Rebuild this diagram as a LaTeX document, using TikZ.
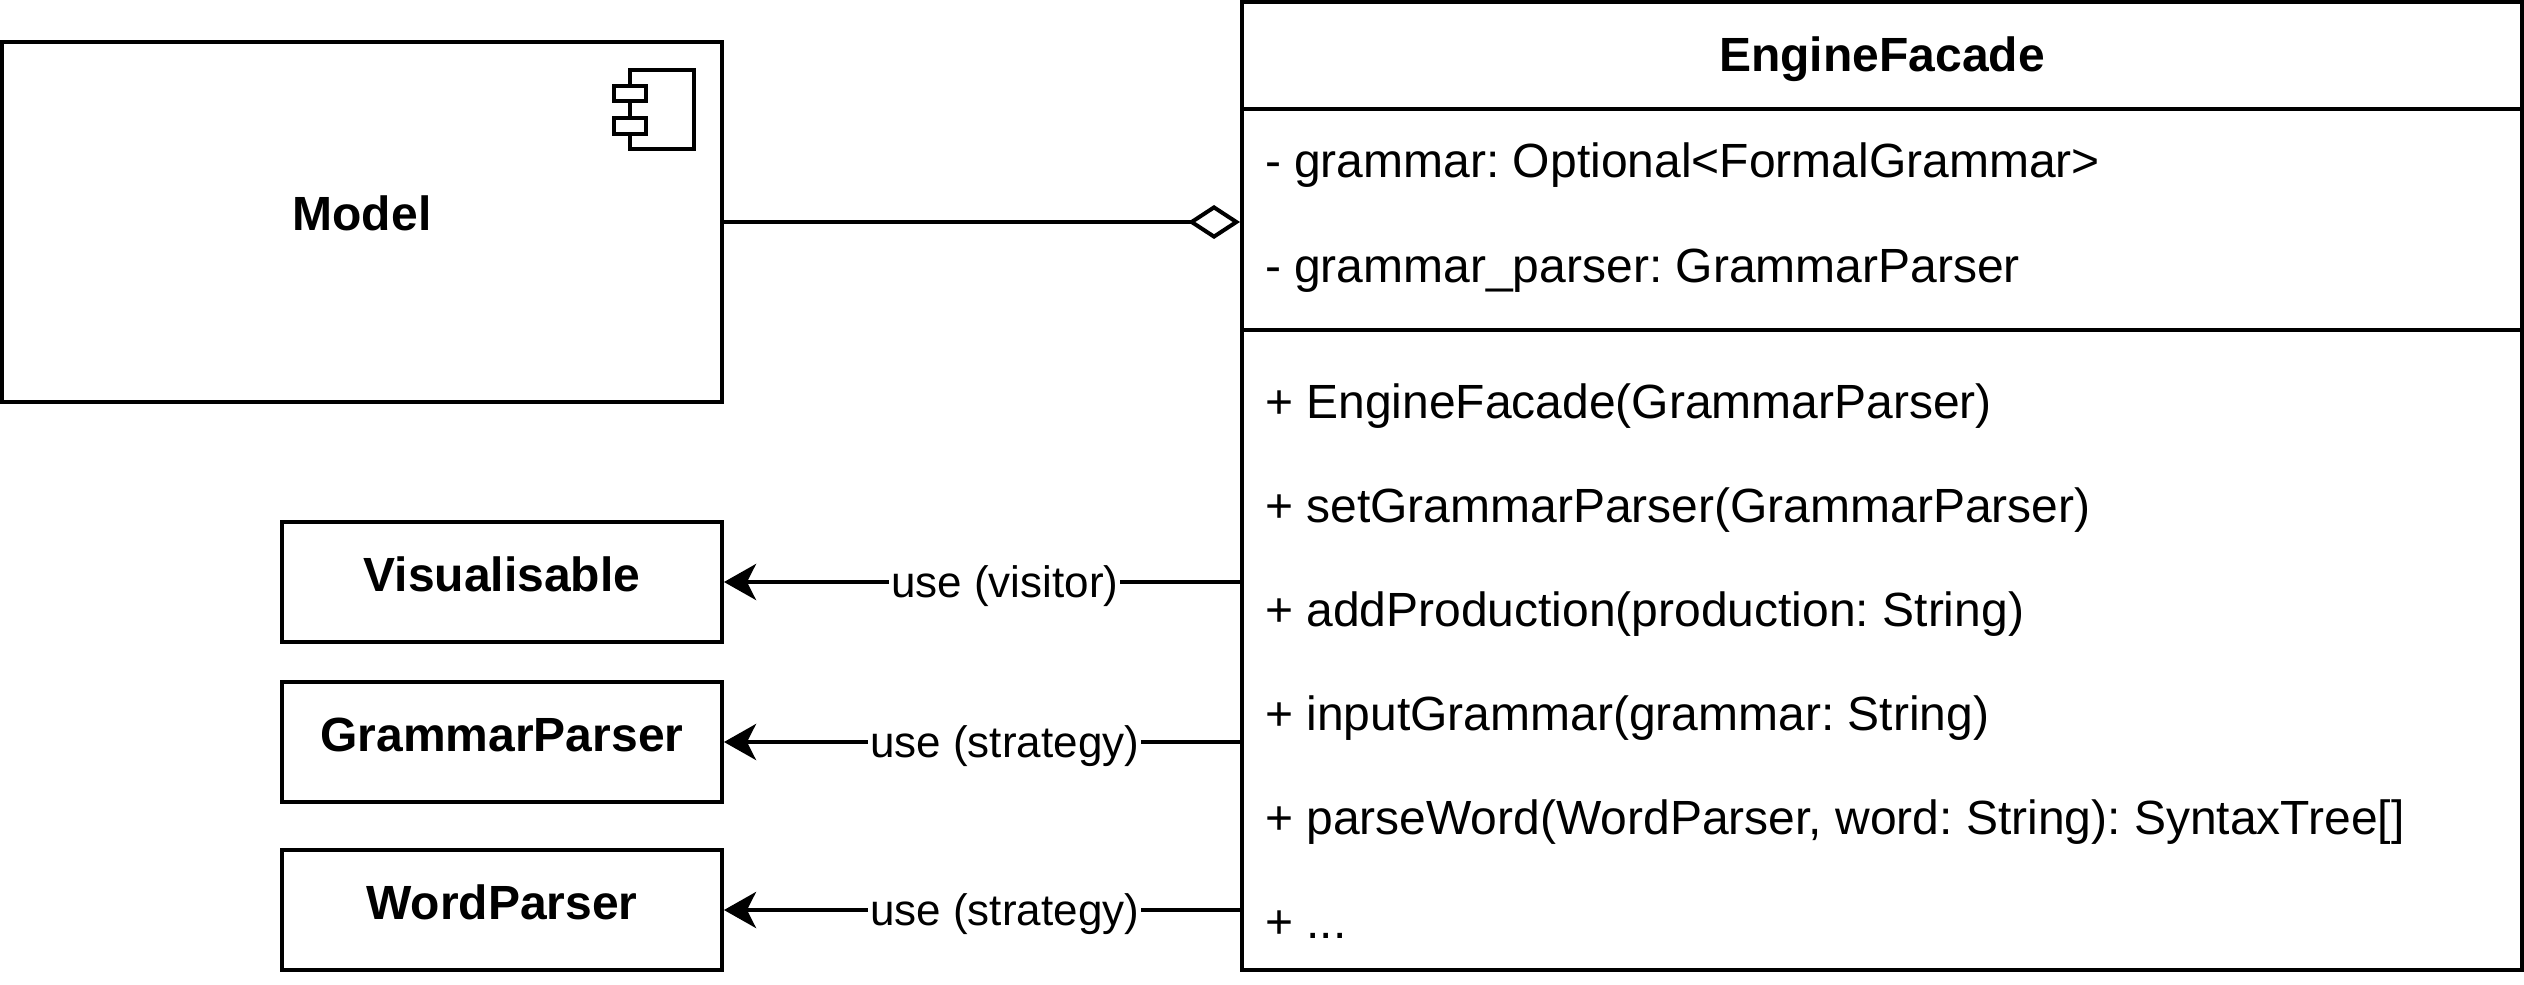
\documentclass[tikz,border=0pt]{standalone}
\usepackage{fontspec}
\setmainfont{Liberation Sans}
\usetikzlibrary{arrows.meta}
\frenchspacing
\begin{document}
\begin{tikzpicture}[x=0.25pt,y=-0.25pt,line width=1pt,
  box/.style={draw,line width=1pt,inner sep=0pt},
  title/.style={font=\fontsize{12pt}{14pt}\selectfont\bfseries,anchor=base,inner sep=0pt},
  member/.style={font=\fontsize{12pt}{14pt}\selectfont,anchor=base west,inner sep=0pt},
  uselabel/.style={font=\fontsize{11pt}{13pt}\selectfont,fill=white,inner xsep=0.5pt,inner ysep=1pt,yshift=-1pt},
  usearrow/.style={-{Stealth[length=8pt,width=9pt,inset=2.25pt]}},
  aggr/.style={-{Diamond[open,length=13pt,width=8.5pt]}}]
\useasboundingbox (0,0) rectangle (2524,984);

% Model component
\node[box,minimum width=180pt,minimum height=90pt] (model) at (362,222) {};
\node[title] (modeltxt) at (362,231) {Model};
\draw (630,70) rectangle (694,149);
\draw[fill=white] (614,86) rectangle (646,101.5);
\draw[fill=white] (614,118) rectangle (646,134);

% EngineFacade class
\node[box,minimum width=320pt,minimum height=242pt] (ef) at (1882,486) {};
\coordinate (hl) at (1242,109);
\coordinate (hr) at (2522,109);
\coordinate (sl) at (1242,330);
\coordinate (sr) at (2522,330);
\draw (hl) -- (hr);
\draw (sl) -- (sr);
\node[title] (eftitle) at (1882,72) {EngineFacade};
\node[member] (a1) at (1263,178) {- grammar: Optional<FormalGrammar>};
\node[member] (a2) at (1263,282) {- grammar\_parser: GrammarParser};
\node[member] (m1) at (1263,418) {+ EngineFacade(GrammarParser)};
\node[member] (m2) at (1263,522) {+ setGrammarParser(GrammarParser)};
\node[member] (m3) at (1263,626) {+ addProduction(production: String)};
\node[member] (m4) at (1263,730) {+ inputGrammar(grammar: String)};
\node[member] (m5) at (1263,834) {+ parseWord(WordParser, word: String): SyntaxTree[]};
\node[member] (m6) at (1263,938) {+ ...};

% Small classes
\node[box,minimum width=110pt,minimum height=30pt] (vis) at (502,582) {};
\node[title] (vistxt) at (502,591) {Visualisable};
\node[box,minimum width=110pt,minimum height=30pt] (gp) at (502,742) {};
\node[title] (gptxt) at (502,751) {GrammarParser};
\node[box,minimum width=110pt,minimum height=30pt] (wp) at (502,910) {};
\node[title] (wptxt) at (502,919) {WordParser};

% Connectors
\draw[aggr] (model.east) -- (ef.west |- model.east);
\draw[usearrow] (ef.west |- vis.east) -- node[uselabel,pos=0.456] (l1) {use (visitor)} (vis.east);
\draw[usearrow] (ef.west |- gp.east) -- node[uselabel,pos=0.456] (l2) {use (strategy)} (gp.east);
\draw[usearrow] (ef.west |- wp.east) -- node[uselabel,pos=0.456] (l3) {use (strategy)} (wp.east);
\end{tikzpicture}
\end{document}
